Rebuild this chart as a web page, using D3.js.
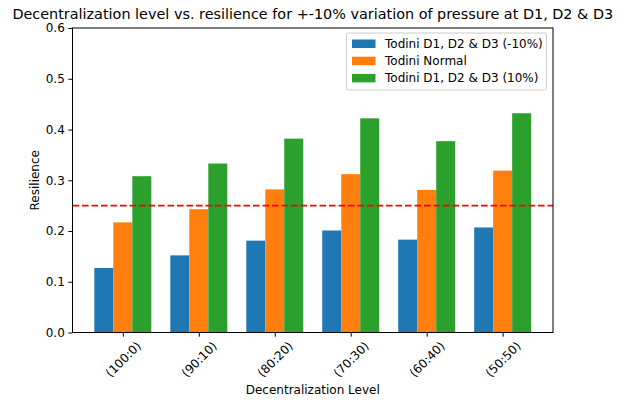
<!DOCTYPE html>
<html>
<head>
<meta charset="utf-8">
<script src="https://cdn.jsdelivr.net/npm/d3@7"></script>
<style>
  body { margin: 0; background: #fff; }
  text { font-family: "DejaVu Sans", sans-serif; fill: #000; }
</style>
</head>
<body>
<div id="chart"></div>
<script>
// data
var categories = ["(100:0)", "(90:10)", "(80:20)", "(70:30)", "(60:40)", "(50:50)"];
var seriesNames = ["Todini D1, D2 & D3 (-10%)", "Todini Normal", "Todini D1, D2 & D3 (10%)"];
var lowValues = [0.127, 0.152, 0.181, 0.201, 0.183, 0.207];
var normalValues = [0.217, 0.243, 0.282, 0.312, 0.281, 0.319];
var highValues = [0.308, 0.333, 0.382, 0.422, 0.377, 0.432];
var threshold = 0.25;
var yTicks = [0.0, 0.1, 0.2, 0.3, 0.4, 0.5, 0.6];
var colors = ["#1f77b4", "#ff7f0e", "#2ca02c"];

var W = 624, H = 400;
var plot = { left: 72.5, right: 553, top: 28, bottom: 332.5 };
var barW = 0.25;
var fs = "12px";

var svg = d3.select("#chart").append("svg")
  .attr("width", W).attr("height", H);

// x as linear scale like matplotlib (index units)
var xMin = -0.375 - 0.2875, xMax = 5.375 + 0.2875;
var x = d3.scaleLinear().domain([xMin, xMax]).range([plot.left, plot.right]);
var y = d3.scaleLinear().domain([0, 0.6]).range([plot.bottom, plot.top]);

var series = [lowValues, normalValues, highValues];

// bars
series.forEach(function (vals, s) {
  svg.append("g").selectAll("rect")
    .data(vals)
    .enter().append("rect")
    .attr("x", function (d, i) { return x(i + (s - 1) * barW - barW / 2); })
    .attr("width", x(barW) - x(0))
    .attr("y", function (d) { return y(d); })
    .attr("height", function (d) { return y(0) - y(d); })
    .attr("fill", colors[s]);
});

// threshold line
svg.append("line")
  .attr("x1", plot.left).attr("x2", plot.right)
  .attr("y1", y(threshold)).attr("y2", y(threshold))
  .attr("stroke", "red")
  .attr("stroke-width", 1.8)
  .attr("stroke-dasharray", "6.6,2.9");

// y axis
var yAxis = d3.axisLeft(y).tickValues(yTicks).tickFormat(d3.format(".1f")).tickSize(4.2).tickPadding(3.5);
var gy = svg.append("g").attr("transform", "translate(" + plot.left + ",0)").call(yAxis);
gy.select(".domain").remove();
gy.selectAll("text").style("font-size", fs).style("font-family", "DejaVu Sans");
gy.selectAll("line").attr("stroke", "#000").attr("stroke-width", 1);

// x axis
var xAxis = d3.axisBottom(x).tickValues(d3.range(categories.length))
  .tickFormat(function (d) { return categories[d]; }).tickSize(4.2);
var gx = svg.append("g").attr("transform", "translate(0," + plot.bottom + ")").call(xAxis);
gx.select(".domain").remove();
gx.selectAll("line").attr("stroke", "#000").attr("stroke-width", 1);
gx.selectAll("text")
  .style("font-size", fs)
  .style("font-family", "DejaVu Sans")
  .attr("text-anchor", "middle")
  .attr("dy", null)
  .attr("y", 0)
  .attr("dominant-baseline", "central")
  .attr("transform", "translate(0,27) rotate(-45)");

// frame
svg.append("rect")
  .attr("x", plot.left).attr("y", plot.top)
  .attr("width", plot.right - plot.left).attr("height", plot.bottom - plot.top)
  .attr("fill", "none").attr("stroke", "#000").attr("stroke-width", 1);

// title and labels
svg.append("text")
  .attr("x", (plot.left + plot.right) / 2).attr("y", 19)
  .attr("text-anchor", "middle")
  .style("font-size", "14.4px")
  .text("Decentralization level vs. resilience for +-10% variation of pressure at D1, D2 & D3");

svg.append("text")
  .attr("x", (plot.left + plot.right) / 2).attr("y", 394)
  .attr("text-anchor", "middle")
  .style("font-size", fs)
  .text("Decentralization Level");

svg.append("text")
  .attr("transform", "translate(39," + (plot.top + plot.bottom) / 2 + ") rotate(-90)")
  .attr("text-anchor", "middle")
  .style("font-size", fs)
  .text("Resilience");

// legend
var lg = svg.append("g").attr("transform", "translate(346.5,33)");
lg.append("rect")
  .attr("width", 200).attr("height", 57).attr("rx", 2)
  .attr("fill", "#fff").attr("fill-opacity", 0.8)
  .attr("stroke", "#ccc").attr("stroke-width", 1);
seriesNames.forEach(function (name, i) {
  var yy = 10.5 + i * 17.2;
  lg.append("rect")
    .attr("x", 5.5).attr("y", yy - 4).attr("width", 23.5).attr("height", 8.5)
    .attr("fill", colors[i]);
  lg.append("text")
    .attr("x", 38.5).attr("y", yy + 4.3)
    .style("font-size", fs)
    .text(name);
});
</script>
</body>
</html>
